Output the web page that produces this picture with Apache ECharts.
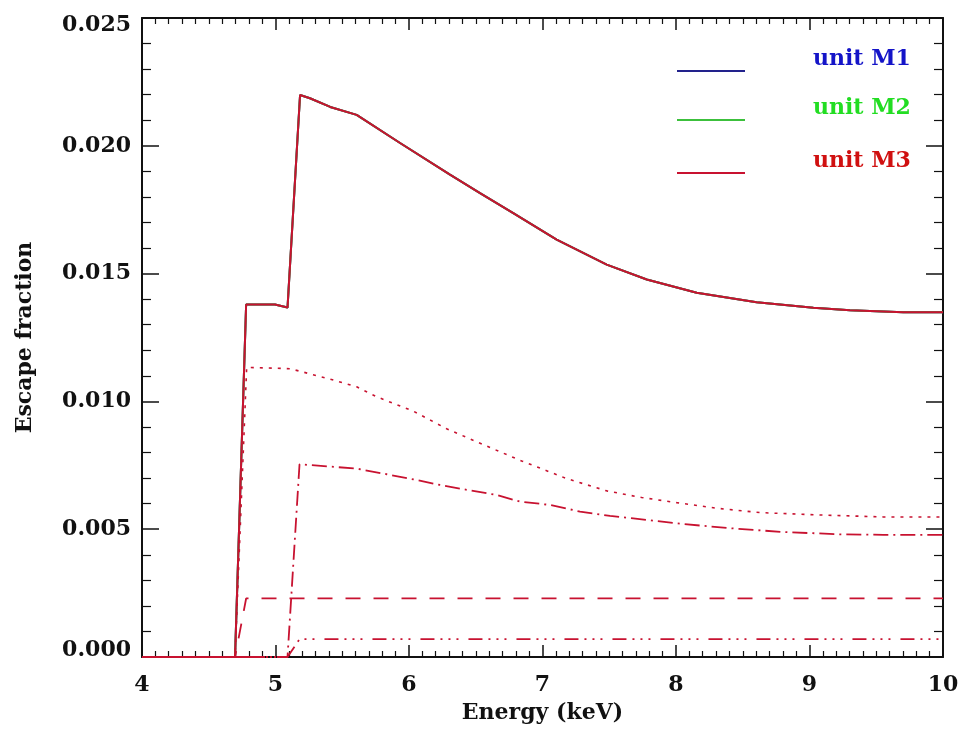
<!DOCTYPE html>
<html>
<head>
<meta charset="utf-8">
<title>Escape fraction vs energy</title>
<script src="https://cdn.jsdelivr.net/npm/echarts@6/dist/echarts.min.js"></script>
<style>
  html, body { margin: 0; padding: 0; background: #ffffff; }
  #chart { width: 962px; height: 729px; }
</style>
</head>
<body>
<div id="chart"></div>
<script>
// Escape fraction curves (energy in keV)
var energyTotal = [4.0, 4.697, 4.78, 4.996, 5.09, 5.184, 5.258, 5.41, 5.608, 5.933, 6.307, 6.532, 6.781, 7.106, 7.481, 7.781, 8.155, 8.604, 9.029, 9.303, 9.703, 10.0];
var escTotal = [0, 0, 0.01379, 0.01379, 0.01367, 0.02199, 0.02186, 0.02152, 0.02121, 0.02011, 0.01887, 0.01815, 0.01737, 0.01633, 0.01535, 0.01477, 0.01425, 0.01388, 0.01366, 0.01357, 0.01349, 0.01349];

var energyDotted = [4.0, 4.697, 4.784, 5.109, 5.396, 5.608, 5.758, 6.032, 6.282, 6.569, 6.844, 7.181, 7.481, 7.743, 8.005, 8.305, 8.629, 9.054, 9.553, 10.0];
var escDotted = [0, 0, 0.01133, 0.01128, 0.01089, 0.01057, 0.01018, 0.00962, 0.00893, 0.00828, 0.00767, 0.00698, 0.00650, 0.00624, 0.00604, 0.00582, 0.00565, 0.00556, 0.00548, 0.00548];

var energyDashDot = [4.0, 5.09, 5.18, 5.408, 5.608, 5.833, 6.032, 6.232, 6.432, 6.657, 6.831, 7.056, 7.281, 7.506, 7.680, 8.055, 8.429, 8.804, 9.228, 9.553, 10.0];
var escDashDot = [0, 0, 0.00754, 0.00745, 0.00737, 0.00715, 0.00695, 0.00673, 0.00654, 0.00634, 0.00608, 0.00595, 0.00569, 0.00552, 0.00542, 0.00520, 0.00503, 0.00489, 0.00480, 0.00478, 0.00478];

var energyDashed = [4.0, 4.697, 4.78, 10.0];
var escDashed = [0, 0, 0.00229, 0.00229];

var energyDash3Dot = [4.0, 5.09, 5.18, 10.0];
var escDash3Dot = [0, 0, 0.0007, 0.0007];

var unitNames = ['unit M1', 'unit M2', 'unit M3'];
var unitLineColors = ['#22228c', '#3cc03c', '#c81230'];
var unitTextColors = ['#1414c8', '#22dd22', '#d01010'];

var xTicks = [4, 5, 6, 7, 8, 9, 10];
var yTicks = [0.000, 0.005, 0.010, 0.015, 0.020, 0.025];

function pairs(xs, ys) {
  return xs.map(function (x, i) { return [x, ys[i]]; });
}

var FONT = 'DejaVu Serif';
var BLACK = '#111111';

function axisCommon(extra) {
  var base = {
    type: 'value',
    axisLine: { show: true, onZero: false, lineStyle: { color: BLACK, width: 2 } },
    splitLine: { show: false },
    axisLabel: { show: false },
    axisTick: { show: true, inside: true, lineStyle: { color: BLACK, width: 1.5 } },
    minorTick: { show: true, lineStyle: { color: BLACK, width: 1.2 } }
  };
  for (var k in extra) base[k] = extra[k];
  return base;
}

var xMin = xTicks[0], xMax = xTicks[xTicks.length - 1];
var yMin = yTicks[0], yMax = yTicks[yTicks.length - 1];

var xAxes = [
  axisCommon({
    position: 'bottom', min: xMin, max: xMax, interval: 1,
    axisTick: { show: true, inside: true, length: 12, lineStyle: { color: BLACK, width: 1.5 } },
    minorTick: { show: true, splitNumber: 10, length: 6, lineStyle: { color: BLACK, width: 1.2 } },
    axisLabel: {
      show: true, margin: 17, color: BLACK, fontFamily: FONT, fontWeight: 'bold', fontSize: 22,
      formatter: function (v) { return String(v); }
    },
    name: 'Energy (keV)', nameLocation: 'middle', nameGap: 45,
    nameTextStyle: { color: BLACK, fontFamily: FONT, fontWeight: 'bold', fontSize: 22 }
  }),
  axisCommon({
    position: 'top', min: xMin, max: xMax, interval: 1,
    axisTick: { show: true, inside: true, length: 12, lineStyle: { color: BLACK, width: 1.5 } },
    minorTick: { show: true, splitNumber: 10, length: 6, lineStyle: { color: BLACK, width: 1.2 } }
  })
];

var yAxes = [
  axisCommon({
    position: 'left', min: yMin, max: yMax, interval: 0.005,
    axisTick: { show: true, inside: true, length: 17, lineStyle: { color: BLACK, width: 1.5 } },
    minorTick: { show: true, splitNumber: 5, length: 9, lineStyle: { color: BLACK, width: 1.2 } },
    axisLabel: {
      show: true, margin: 11, color: BLACK, fontFamily: FONT, fontWeight: 'bold', fontSize: 22,
      lineHeight: 14,
      // the end labels sit slightly inside the axis range
      formatter: function (v) {
        var s = v.toFixed(3);
        if (v === yMin) return s + '\n';
        if (v === yMax) return '\n' + s;
        return s;
      }
    },
    name: 'Escape fraction', nameLocation: 'middle', nameGap: 106,
    nameTextStyle: { color: BLACK, fontFamily: FONT, fontWeight: 'bold', fontSize: 22 }
  }),
  axisCommon({
    position: 'right', min: yMin, max: yMax, interval: 0.005,
    axisTick: { show: true, inside: true, length: 17, lineStyle: { color: BLACK, width: 1.5 } },
    minorTick: { show: true, splitNumber: 5, length: 9, lineStyle: { color: BLACK, width: 1.2 } }
  })
];

function curve(name, xs, ys, color, width, type, z) {
  return {
    name: name, type: 'line', xAxisIndex: 0, yAxisIndex: 0,
    data: pairs(xs, ys), symbol: 'none', showSymbol: false, smooth: false,
    animation: false, z: z, silent: true, clip: false,
    lineStyle: { color: color, width: width, type: type }
  };
}

var series = [
  curve(unitNames[0], energyTotal, escTotal, unitLineColors[0], 2, 'solid', 2),
  curve(unitNames[1], energyTotal, escTotal, unitLineColors[1], 2, 'solid', 3),
  curve(unitNames[2], energyTotal, escTotal, unitLineColors[2], 2, 'solid', 5),
  curve(unitNames[2], energyDotted, escDotted, unitLineColors[2], 1.6, [3, 6], 5),
  curve(unitNames[2], energyDashDot, escDashDot, unitLineColors[2], 1.8, [15, 5, 2, 5], 5),
  curve(unitNames[2], energyDashed, escDashed, unitLineColors[2], 1.8, [15, 13], 5),
  curve(unitNames[2], energyDash3Dot, escDash3Dot, unitLineColors[2], 1.8, [14, 6, 2, 6, 2, 6, 2, 10], 5)
];

var legendLineY = [71, 120, 173];
var legends = unitNames.map(function (n, i) {
  return {
    show: true, orient: 'horizontal', left: 676, top: legendLineY[i] - 7 - 17,
    padding: 0, itemWidth: 68, itemHeight: 14, selectedMode: false,
    itemStyle: { opacity: 0 },
    data: [{ name: n, textStyle: { color: unitTextColors[i] } }],
    // text is raised above the sample line
    formatter: function (name) { return name + '\n'; },
    textStyle: {
      fontFamily: FONT, fontWeight: 'bold', fontSize: 22, lineHeight: 24,
      padding: [0, 0, 0, 63]
    }
  };
});

var chart = echarts.init(document.getElementById('chart'), null, { renderer: 'canvas' });
chart.setOption({
  backgroundColor: '#ffffff',
  animation: false,
  grid: { left: 142, right: 19, top: 18, bottom: 71, containLabel: false },
  legend: legends,
  xAxis: xAxes,
  yAxis: yAxes,
  series: series
});
</script>
</body>
</html>
